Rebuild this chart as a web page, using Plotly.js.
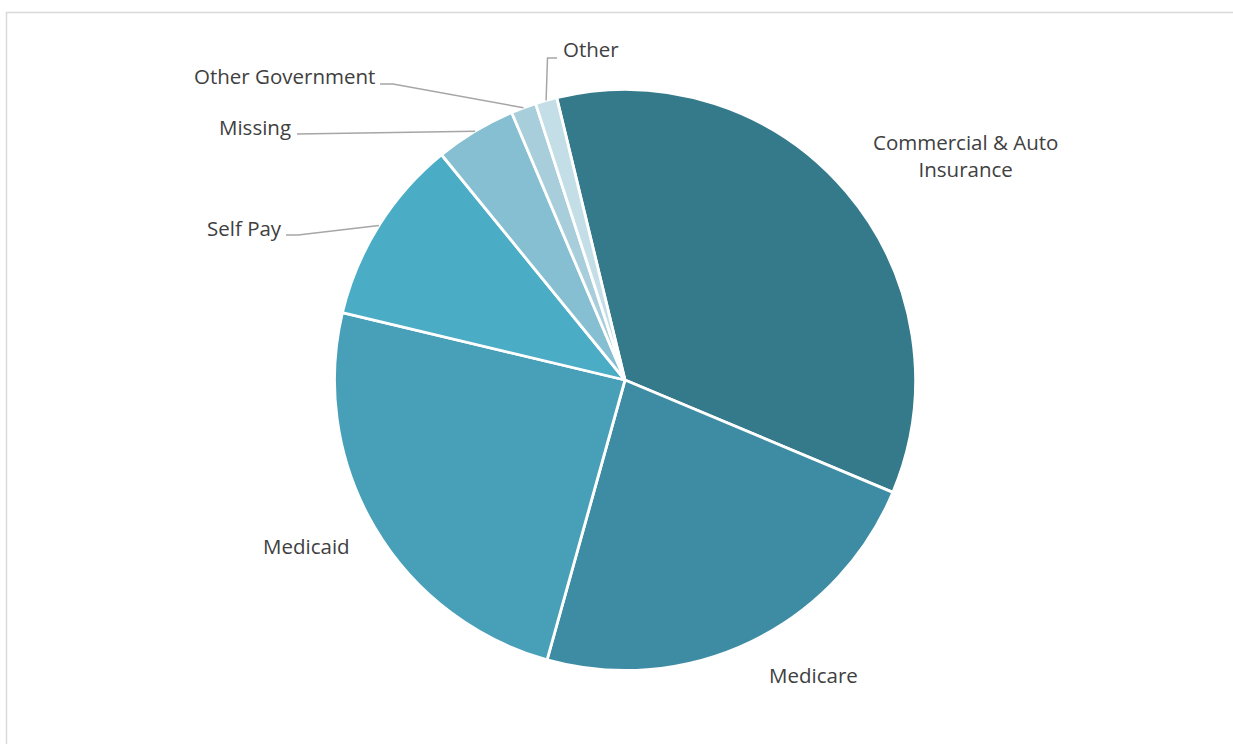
<!DOCTYPE html>
<html>
<head>
<meta charset="utf-8">
<script src="https://cdn.plot.ly/plotly-3.0.1.min.js"></script>
<style>
  html, body { margin: 0; padding: 0; background: #ffffff; }
  #chart { width: 1233px; height: 744px; }
</style>
</head>
<body>
<div id="chart"></div>
<script>
// ---- Data (percent share) ----
const categories = ['Commercial & Auto Insurance', 'Medicare', 'Medicaid', 'Self Pay', 'Missing', 'Other Government', 'Other'];
const labelTexts = ['Commercial & Auto<br>Insurance', 'Medicare', 'Medicaid', 'Self Pay', 'Missing', 'Other Government', 'Other'];
const shares = [35.1, 23.0, 24.4, 10.4, 4.5, 1.4, 1.2];
const sliceColors = ['#357a8b', '#3e8ca3', '#479fb8', '#4bacc6', '#86bfd1', '#a8cedc', '#c4dee7'];

// ---- Layout / style settings ----
const W = 1233, H = 744;
const CX = 625, CY = 380, R = 290.5;
const ROTATION = -13.6;
const FONT = { family: '"Open Sans", sans-serif', size: 20.5, color: '#404040' };

// label centers (pixels) and leader-line points (pixels) per category
const labelPos = [
  { x: 965, y: 155 },
  { x: 813, y: 674.5 },
  { x: 306, y: 545.5 },
  { x: 244, y: 227.5 },
  { x: 255, y: 126.5 },
  { x: 284, y: 76.5 },
  { x: 591, y: 48.5 }
];
const leaders = [
  null, null, null,
  [[298, 235], [286, 235]],
  [[297, 134]],
  [[393, 84], [380, 84]],
  [[547.5, 58], [557, 58]]
];

const px = v => v / W;
const py = v => 1 - v / H;

const total = shares.reduce((a, b) => a + b, 0);
const annotations = [];
const shapes = [];

// frame
shapes.push({
  type: 'rect', xref: 'paper', yref: 'paper',
  x0: px(6.5), x1: px(W + 10), y0: py(12.5), y1: py(H + 10),
  line: { color: '#d9d9d9', width: 1.5 }, fillcolor: 'rgba(0,0,0,0)', layer: 'below'
});

let cum = 0;
shares.forEach((v, i) => {
  const mid = (ROTATION + 360 * (cum + v / 2) / total) * Math.PI / 180;
  cum += v;
  annotations.push({
    xref: 'paper', yref: 'paper', x: px(labelPos[i].x), y: py(labelPos[i].y),
    xanchor: 'center', yanchor: 'middle', showarrow: false,
    text: labelTexts[i], font: FONT, align: 'center'
  });
  if (leaders[i]) {
    const ax = CX + R * Math.sin(mid);
    const ay = CY - R * Math.cos(mid);
    let path = 'M ' + px(ax) + ' ' + py(ay);
    leaders[i].forEach(p => { path += ' L ' + px(p[0]) + ' ' + py(p[1]); });
    shapes.push({
      type: 'path', xref: 'paper', yref: 'paper', path: path,
      line: { color: '#a6a6a6', width: 1.5 }
    });
  }
});

const trace = {
  type: 'pie',
  labels: categories,
  values: shares,
  sort: false,
  direction: 'clockwise',
  rotation: ROTATION,
  textinfo: 'none',
  hoverinfo: 'label+percent',
  marker: { colors: sliceColors, line: { color: '#ffffff', width: 2.8 } },
  domain: { x: [px(CX - R), px(CX + R)], y: [py(CY + R), py(CY - R)] },
  showlegend: false
};

const layout = {
  width: W, height: H,
  margin: { l: 0, r: 0, t: 0, b: 0 },
  paper_bgcolor: '#ffffff',
  plot_bgcolor: '#ffffff',
  showlegend: false,
  annotations: annotations,
  shapes: shapes,
  font: FONT
};

Plotly.newPlot('chart', [trace], layout, { displayModeBar: false, staticPlot: true });
</script>
</body>
</html>
